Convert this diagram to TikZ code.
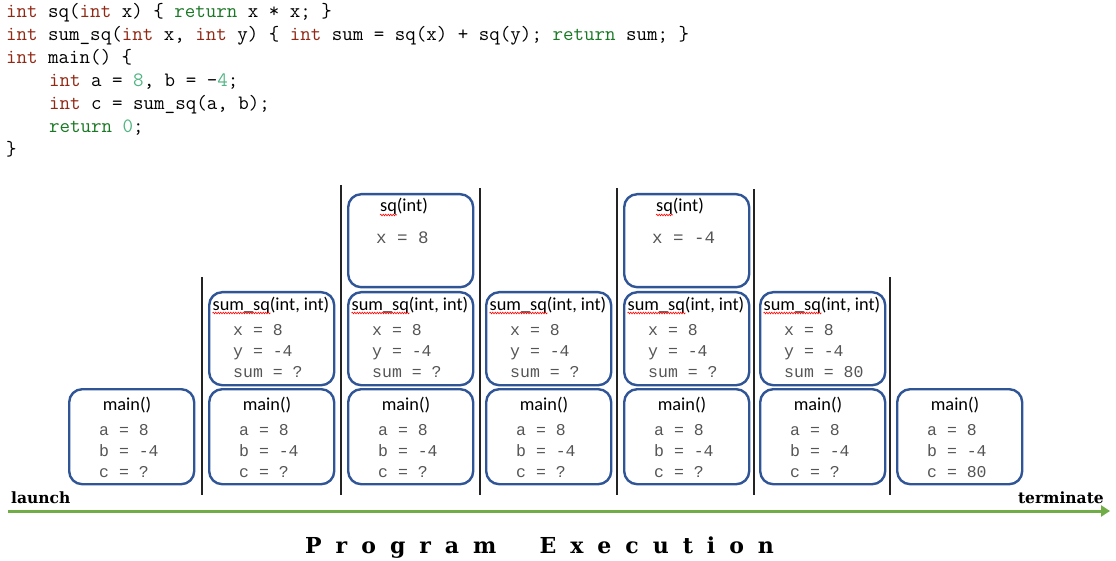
\documentclass[tikz,border=0pt]{standalone}
\usepackage{fontspec}
\newfontfamily\titlefont{Carlito}
\newfontfamily\varfont{Liberation Mono}
\newfontfamily\labfont{DejaVu Serif}
\usetikzlibrary{decorations.pathmorphing,arrows.meta}
\definecolor{boxblue}{RGB}{47,85,151}
\definecolor{kwint}{RGB}{145,40,20}
\definecolor{kwret}{RGB}{25,120,35}
\definecolor{numc}{RGB}{80,180,130}
\definecolor{vargray}{RGB}{85,85,85}
\definecolor{arrowgreen}{RGB}{112,173,71}
\definecolor{sepgray}{RGB}{35,35,35}
\newcommand\KI[1]{\textcolor{kwint}{#1}}
\newcommand\KR[1]{\textcolor{kwret}{#1}}
\newcommand\KN[1]{\textcolor{numc}{#1}}
\newcommand\lsp{\hspace{14pt}}
\begin{document}
\begin{tikzpicture}[x=1pt,y=-1pt,
  frame/.style={draw=boxblue,line width=2.4pt,rounded corners=13pt,minimum width=125pt,inner sep=0pt,anchor=north west},
  mainframe/.style={frame,minimum height=95pt},
  sumframe/.style={frame,minimum height=93pt},
  sqframe/.style={frame,minimum height=93pt},
  ftitle/.style={font=\titlefont\fontsize{18.3}{20}\selectfont,anchor=base,inner sep=0pt},
  fvar/.style={font=\varfont\fontsize{16.5}{18}\selectfont,text=vargray,anchor=base west,inner sep=0pt},
  fvarbig/.style={font=\varfont\fontsize{17.5}{19}\selectfont,text=vargray,anchor=base west,inner sep=0pt},
  code/.style={font=\ttfamily\fontsize{20.4}{23}\selectfont,anchor=base west,inner sep=0pt},
  sepline/.style={draw=sepgray,line width=2.2pt},
  squig/.style={draw=red,line width=0.6pt,decorate,decoration={snake,segment length=2.5pt,amplitude=0.8pt}},
  lab/.style={font=\labfont\bfseries\fontsize{15.5}{17}\selectfont,inner sep=0pt}
]
\useasboundingbox (0,0) rectangle (1116,561);

% code
\node[code] (c1) at (6,18) {\KI{int} sq(\KI{int} x) \{ \KR{return} x * x; \}};
\node[code] (c2) at (6,41) {\KI{int} sum\_sq(\KI{int} x, \KI{int} y) \{ \KI{int} sum = sq(x) + sq(y); \KR{return} sum; \}};
\node[code] (c3) at (6,64) {\KI{int} main() \{};
\node[code] (c4) at (49,87) {\KI{int} a = \KN{8}, b = -\KN{4};};
\node[code] (c5) at (49,110) {\KI{int} c = sum\_sq(a, b);};
\node[code] (c6) at (49,133) {\KR{return} \KN{0};};
\node[code] (c7) at (6,156) {\}};

% separators
\foreach \i/\x/\t in {1/202/277,2/341/185,3/480/188,4/617/188,5/754/189,6/890/277}{
  \coordinate (st\i) at (\x,\t);
  \coordinate (sb\i) at (\x,495);
  \draw[sepline] (st\i) -- (sb\i);
}

% main() frames
\foreach \i/\L/\c in {0/68/?,1/208/?,2/347/?,3/485/?,4/623/?,5/759/?,6/896/80}{
  \node[mainframe] (m\i) at (\L,388) {};
  \node[ftitle] (mt\i) at (\L+59,410) {main()};
  \node[fvar] (ma\i) at (\L+31,435) {a = 8};
  \node[fvar] (mb\i) at (\L+31,456) {b = -4};
  \node[fvar] (mc\i) at (\L+31,477) {c = \c};
}

% sum_sq frames
\foreach \i/\L/\s in {1/208/?,2/347/?,3/485/?,4/623/?,5/759/80}{
  \node[sumframe] (f\i) at (\L,291) {};
  \node[ftitle] (ft\i) at (\L+63,310) {sum\_sq(int, int)};
  \draw[squig] ([yshift=-3pt]ft\i.base west) -- ++(58,0);
  \node[fvar] (fx\i) at (\L+25,335) {x = 8};
  \node[fvar] (fy\i) at (\L+25,356) {y = -4};
  \node[fvar] (fs\i) at (\L+25,377) {sum = \s};
}

% sq frames
\foreach \i/\L/\v in {2/347/8,4/623/-4}{
  \node[sqframe] (q\i) at (\L,193) {};
  \node[ftitle] (qt\i) at (\L+57,212) {sq(int)};
  \draw[squig] ([yshift=-3pt]qt\i.base west) -- ++(17,0);
  \node[fvarbig] (qx\i) at (\L+29,244) {x = \v};
}

% time axis
\coordinate (tstart) at (8,511);
\coordinate (tend) at (1110,511);
\draw[arrowgreen,line width=3pt,-{Triangle[length=9pt,width=11pt]}] (tstart) -- (tend);
\node[lab,anchor=base west] (launch) at (11,503) {launch};
\node[lab,anchor=base east] (terminate) at (1104,503) {terminate};
\node[lab,anchor=base west,font=\labfont\bfseries\fontsize{22}{24}\selectfont] (pe) at (305,553)
  {P\lsp r\lsp o\lsp g\lsp r\lsp a\lsp m\hspace{43pt}E\lsp x\lsp e\lsp c\lsp u\lsp t\lsp i\lsp o\lsp n};
\end{tikzpicture}
\end{document}
